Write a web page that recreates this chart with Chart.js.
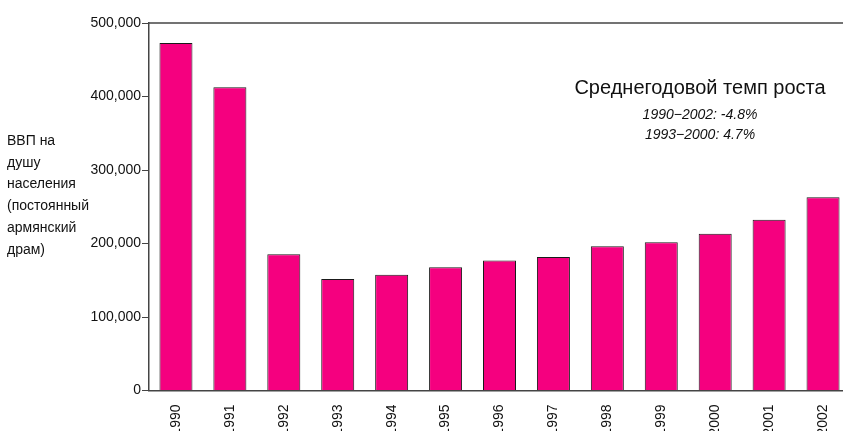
<!DOCTYPE html>
<html lang="ru">
<head>
    <meta charset="UTF-8">
    <title>ВВП на душу населения</title>
    <script src="https://cdn.jsdelivr.net/npm/chart.js@4.4.4/dist/chart.umd.min.js"></script>
    <style>
        html, body {
            margin: 0;
            padding: 0;
            background: #ffffff;
            overflow: hidden;
        }
        #wrap {
            width: 843px;
            height: 431px;
            overflow: hidden;
        }
    </style>
</head>
<body>
    <div id="wrap">
        <canvas id="gdp-chart" width="850" height="431"></canvas>
    </div>

    <script>
        // Years and GDP per capita, constant Armenian dram
        const years = ['1990', '1991', '1992', '1993', '1994', '1995', '1996',
                       '1997', '1998', '1999', '2000', '2001', '2002'];
        const gdpPerCapita = [472800, 412500, 185300, 151700, 157600, 167600, 176900,
                              181600, 196200, 201600, 213300, 232400, 262900];
        const yTicks = [0, 100000, 200000, 300000, 400000, 500000];

        const axisTitle = ['ВВП на', 'душу', 'населения', '(постоянный', 'армянский', 'драм)'];
        const noteTitle = 'Среднегодовой темп роста';
        const noteLines = ['1990\u22122002: -4.8%', '1993\u22122000: 4.7%'];

        const FONT = '"Liberation Sans", Arial, sans-serif';
        const AXIS_COLOR = '#444444';

        // axis title, top frame line and growth-rate note
        const decorations = {
            id: 'decorations',
            afterDraw(chart) {
                const ctx = chart.ctx;
                const area = chart.chartArea;
                ctx.save();

                ctx.strokeStyle = AXIS_COLOR;
                ctx.lineWidth = 1.5;
                ctx.beginPath();
                ctx.moveTo(area.left, area.top);
                ctx.lineTo(chart.width, area.top);
                ctx.stroke();

                ctx.fillStyle = '#111111';
                ctx.font = '14px ' + FONT;
                ctx.textAlign = 'left';
                ctx.textBaseline = 'middle';
                axisTitle.forEach((line, i) => {
                    ctx.fillText(line, 7, 141 + i * 21.8);
                });

                const cx = 700;
                ctx.textAlign = 'center';
                ctx.font = '20px ' + FONT;
                ctx.fillText(noteTitle, cx, 88);
                ctx.font = 'italic 14px ' + FONT;
                noteLines.forEach((line, i) => {
                    ctx.fillText(line, cx, 115 + i * 20);
                });

                ctx.restore();
            }
        };

        new Chart(document.getElementById('gdp-chart'), {
            type: 'bar',
            data: {
                labels: years,
                datasets: [{
                    data: gdpPerCapita,
                    backgroundColor: '#f5007f',
                    borderColor: '#1a1a1a',
                    borderWidth: 1,
                    categoryPercentage: 1,
                    barPercentage: 0.612
                }]
            },
            options: {
                responsive: false,
                animation: false,
                layout: { padding: { top: 23, left: 0, right: 0, bottom: 0 } },
                plugins: {
                    legend: { display: false },
                    tooltip: { enabled: false }
                },
                scales: {
                    x: {
                        grid: { display: false },
                        border: { display: true, color: AXIS_COLOR, width: 1.5 },
                        ticks: {
                            minRotation: 90,
                            maxRotation: 90,
                            autoSkip: false,
                            padding: 6,
                            color: '#111111',
                            font: { family: FONT, size: 14 }
                        },
                        afterFit(scale) { scale.height = 40.5; }
                    },
                    y: {
                        min: 0,
                        max: 500000,
                        afterBuildTicks(scale) {
                            scale.ticks = yTicks.map(v => ({ value: v }));
                        },
                        grid: {
                            drawOnChartArea: false,
                            drawTicks: true,
                            tickLength: 7,
                            color: AXIS_COLOR,
                            lineWidth: 1
                        },
                        border: { display: true, color: AXIS_COLOR, width: 1.5 },
                        ticks: {
                            padding: 1,
                            color: '#111111',
                            font: { family: FONT, size: 14 },
                            callback: v => v.toLocaleString('en-US')
                        },
                        afterFit(scale) { scale.width = 149; }
                    }
                }
            },
            plugins: [decorations]
        });
    </script>
</body>
</html>
